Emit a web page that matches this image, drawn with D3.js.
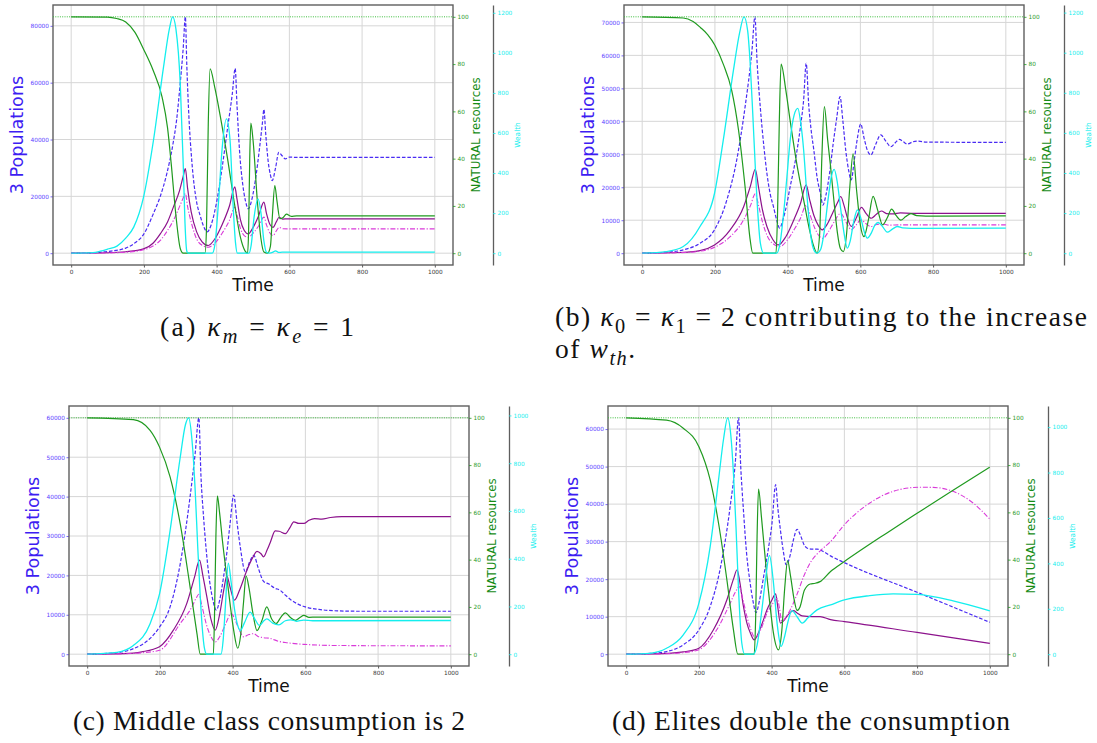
<!DOCTYPE html>
<html>
<head>
<meta charset="utf-8">
<script src="https://cdn.jsdelivr.net/npm/d3@7"></script>
<style>
  body { margin: 0; background: #fff; }
  svg { display: block; }
</style>
</head>
<body>
<svg id="fig" width="1097" height="743"></svg>
<script>
// ---------------------------------------------------------------
// Tick values
// ---------------------------------------------------------------
const timeTicks = [0, 200, 400, 600, 800, 1000];
const natureTicks = [0, 20, 40, 60, 80, 100];
const popTicksA = [0, 20000, 40000, 60000, 80000];
const popTicksB = [0, 10000, 20000, 30000, 40000, 50000, 60000, 70000];
const popTicksCD = [0, 10000, 20000, 30000, 40000, 50000, 60000];
const wealthTicksAB = [0, 200, 400, 600, 800, 1000, 1200];
const wealthTicksCD = [0, 200, 400, 600, 800, 1000];
const carryingCapacity = 100;

// ---------------------------------------------------------------
// (a) kappa_m = kappa_e = 1      series are [time, value]
// ---------------------------------------------------------------
const commonersA = [[0,0],[50,100],[100,600],[150,1800],[172,3300],[200,6800],[226,13900],[245,20000],[263,28000],[280,38500],[290,47000],[300,60000],[308,72000],[314,83175],[318,66000],[323,50000],[332,32000],[345,18000],[354,13500],[364,9500],[374,7500],[385,10000],[400,18000],[415,30000],[430,44000],[443,56000],[451,65000],[456,52000],[463,36000],[472,24000],[480,18000],[487,15600],[497,19000],[508,27000],[518,37000],[526,46000],[530,50600],[535,42000],[542,32000],[548,27500],[553,25550],[562,30000],[571,35500],[580,34300],[589,33200],[600,33800],[620,33700],[1000,33700]];
const middleA = [[0,0],[100,150],[150,500],[199,1500],[225,3500],[245,6800],[265,11000],[281,16200],[298,22000],[308,27000],[314,29750],[320,23000],[330,14500],[345,7500],[360,4000],[377,2700],[395,5000],[415,10000],[435,16500],[450,23300],[456,19000],[465,12000],[476,8000],[487,6800],[500,9000],[515,13000],[530,18000],[537,14000],[547,10000],[555,9100],[564,11000],[572,12650],[582,12000],[595,12100],[1000,12100]];
const elitesA = [[0,0],[100,100],[150,350],[199,1200],[225,2500],[245,4500],[265,8000],[281,11500],[300,17000],[310,20000],[314,21000],[320,16500],[332,10000],[345,5000],[360,2800],[377,2100],[395,3500],[415,7000],[435,11500],[450,16200],[456,13500],[466,8500],[476,6200],[487,5600],[500,7000],[515,9500],[530,12700],[537,10000],[546,7200],[555,6200],[564,7800],[572,9100],[582,8600],[595,8570],[1000,8570]];
const natureA = [[0,100],[100,99.9],[125,99.3],[150,97.8],[175,93.5],[200,86],[225,77.5],[250,66],[265,53],[275,38],[288,16],[300,2],[308,0],[368,0],[372,10],[377,55],[382,78],[395,70],[410,58],[430,40],[450,20],[465,7],[478,1],[485,0],[488,10],[491,40],[494,55],[500,48],[512,22],[522,6],[530,0.5],[540,0],[548,3],[553,15],[560,28.6],[566,22],[574,14.6],[582,15],[592,16.5],[605,15.6],[620,15.8],[1000,15.8]];
const wealthA = [[0,0],[60,3],[80,10],[100,20],[126,35],[150,75],[172,130],[199,280],[226,560],[254,930],[270,1120],[279,1180],[288,1120],[300,845],[308,450],[313,150],[318,10],[322,0],[388,0],[395,40],[405,250],[415,520],[427,670],[437,560],[445,250],[452,50],[457,0],[489,0],[495,40],[503,180],[514,271],[522,200],[530,60],[537,5],[545,0],[555,5],[562,12],[570,4],[580,5],[1000,5]];

// ---------------------------------------------------------------
// (b) kappa_0 = kappa_1 = 2
// ---------------------------------------------------------------
const commonersB = [[0,0],[67,300],[113,1000],[159,3000],[199,7100],[233,16200],[260,28300],[283,44400],[302,61600],[310,71700],[316,58000],[325,44000],[335,32000],[343,24200],[352,18000],[361,14100],[370,10000],[378,7600],[388,10500],[398,15000],[407,20200],[417,25500],[426,31300],[436,39000],[444,46500],[451,57600],[458,45000],[465,37000],[472,31300],[481,23000],[490,18200],[497,14600],[505,17500],[515,24000],[525,33000],[535,41000],[544,47500],[552,40000],[560,31000],[568,25000],[575,22200],[583,28000],[592,35000],[601,39200],[610,35000],[620,31000],[629,29800],[642,33000],[656,35900],[670,34000],[684,32300],[696,33500],[707,34500],[718,33800],[729,33100],[745,33800],[760,34000],[780,33700],[1000,33600]];
const middleB = [[0,0],[100,200],[159,800],[199,2500],[242,7100],[279,14100],[298,20500],[311,25450],[320,20000],[330,13500],[343,8100],[360,4000],[375,2500],[395,5000],[417,10100],[435,15000],[451,20700],[460,16500],[472,11500],[485,8300],[495,7100],[510,9000],[525,12500],[538,15500],[546,17200],[555,14500],[565,10500],[575,8100],[588,10500],[603,13900],[616,12000],[630,10600],[644,11800],[658,12800],[672,12000],[690,11900],[710,12200],[740,12100],[1000,12100]];
const elitesB = [[0,0],[100,150],[159,600],[199,1800],[242,5000],[279,10100],[298,14500],[311,18000],[320,14500],[332,9000],[345,5000],[362,2700],[378,2000],[398,3800],[417,7000],[435,10500],[451,14600],[462,11500],[475,7500],[487,5200],[497,4500],[512,6500],[528,9500],[546,12100],[556,10500],[566,8300],[575,7100],[588,8500],[601,10100],[615,9000],[629,8100],[645,8700],[660,8900],[680,8500],[710,8600],[1000,8600]];
const natureB = [[0,100],[113,99.5],[140,98],[160,95.5],[180,92.5],[200,88],[223,80],[246,69],[265,52],[283,28],[297,5.6],[304,0],[368,0],[372,15],[377,55],[382,80],[395,69],[407,56],[425,38],[444,22.6],[460,10],[472,2.8],[481,0],[488,8],[494,40],[501,62],[510,48],[518,36.7],[530,18],[537,8.5],[545,2],[553,0.7],[562,8],[571,28],[580,42],[590,26],[600,12],[610,7],[622,14],[635,24],[648,18],[661,12],[674,15],[686,18.6],[698,16],[711,14],[725,15.5],[739,16.7],[755,15.9],[780,15.7],[1000,15.8]];
const wealthB = [[0,0],[67,8],[113,33],[159,133],[199,299],[223,564],[251,913],[268,1100],[280,1179],[290,1110],[297,946],[304,700],[311,432],[318,200],[325,50],[334,0],[370,0],[380,60],[389,200],[398,380],[407,564],[418,690],[428,722],[436,650],[444,515],[451,340],[458,183],[465,70],[472,17],[480,0],[491,20],[500,100],[510,250],[520,380],[528,418],[536,360],[546,220],[556,90],[564,25],[572,60],[582,160],[592,216],[602,170],[611,105],[619,75],[630,100],[640,140],[649,153],[660,135],[674,105],[688,120],[702,133],[716,126],[740,124],[1000,125]];

// ---------------------------------------------------------------
// (c) middle class consumption is 2
// ---------------------------------------------------------------
const commonersC = [[0,0],[82,400],[127,1400],[173,4000],[199,6900],[228,12000],[256,23000],[283,40000],[297,51000],[307,60000],[313,45000],[320,34900],[334,20500],[345,14000],[355,11200],[365,14000],[375,19600],[385,26500],[393,33200],[403,40400],[412,33500],[421,27200],[435,20900],[447,23500],[458,25100],[470,22000],[485,18500],[500,17800],[515,16800],[531,16200],[545,15000],[559,13900],[580,12700],[600,12000],[642,11300],[688,11000],[750,10900],[1000,10900]];
const middleC = [[0,0],[100,150],[150,600],[199,1900],[237,6100],[274,12900],[295,19500],[309,23900],[318,20000],[329,14600],[340,9000],[352,6100],[365,10500],[376,16500],[384,19900],[393,17000],[405,13700],[420,16500],[440,21500],[455,24500],[467,26100],[478,25500],[485,24700],[495,26500],[504,28500],[517,31300],[528,31200],[545,30600],[558,32200],[568,33600],[582,33200],[596,33200],[610,34000],[625,34400],[645,34300],[669,34700],[700,34900],[1000,34900]];
const elitesC = [[0,0],[100,100],[150,350],[199,1000],[256,7800],[288,12000],[300,14300],[307,15200],[315,12500],[328,7500],[340,4500],[352,3100],[365,4500],[380,7500],[396,10300],[410,8000],[420,5800],[430,4400],[445,5000],[458,5200],[470,4500],[485,4200],[504,4000],[525,3300],[550,2900],[596,2500],[688,2200],[1000,2100]];
const natureC = [[0,100],[127,99.2],[173,94.7],[199,87.6],[228,75],[256,55],[279,32.6],[302,8.6],[311,0],[347,0],[350,15],[354,50],[358,67],[364,60],[372,48],[384,32.6],[394,20],[403,10],[414,2.5],[422,8],[430,22],[437,33],[445,28],[455,18],[467,10],[480,14],[494,20],[507,15],[520,13],[532,15.5],[545,17.5],[559,15.5],[573,14.3],[585,15.5],[596,16.4],[610,15.6],[630,15.7],[1000,15.7]];
const wealthC = [[0,0],[82,8],[127,36],[173,127],[199,253],[228,518],[256,826],[270,960],[279,990],[288,900],[297,686],[304,450],[311,239],[317,100],[322,29],[329,0],[368,0],[374,60],[380,200],[388,381],[396,300],[405,190],[414,120],[421,99],[432,130],[448,176],[460,150],[474,120],[486,140],[494,148],[510,130],[527,123],[545,140],[560,144],[575,138],[595,143],[620,140],[1000,141]];

// ---------------------------------------------------------------
// (d) elites double the consumption
// ---------------------------------------------------------------
const commonersD = [[0,0],[65,200],[111,700],[157,2500],[200,6500],[231,12700],[258,22500],[286,39400],[300,51000],[309,63000],[315,50000],[323,37600],[331,27000],[341,18900],[349,14000],[357,11100],[367,14500],[378,20700],[390,27500],[401,34900],[411,45200],[417,39000],[424,33200],[432,27500],[440,23800],[450,26000],[460,30500],[470,33300],[480,31500],[490,29000],[497,28300],[511,28000],[525,28000],[545,27200],[562,26200],[600,24400],[800,16500],[1000,8500]];
const middleD = [[0,0],[100,150],[157,600],[200,1600],[240,6500],[277,14500],[295,20000],[305,22500],[312,19500],[322,13000],[332,8300],[342,5500],[352,3800],[365,6000],[377,9000],[387,11800],[400,14300],[411,16100],[417,12500],[424,8300],[432,8800],[440,9800],[450,11000],[460,11600],[470,11000],[484,10200],[511,10000],[533,10000],[562,9200],[600,8700],[800,5800],[1000,2900]];
const elitesD = [[0,0],[100,100],[157,400],[200,1200],[249,6500],[286,13600],[300,16500],[311,18000],[320,15000],[332,10000],[343,6500],[355,4300],[370,6500],[387,10900],[400,13000],[415,14900],[422,12000],[428,8700],[440,10000],[451,11800],[470,16000],[488,20700],[507,24500],[533,27500],[562,30000],[600,34500],[670,40300],[734,43400],[808,44500],[844,44450],[899,43400],[954,40300],[1000,36000]];
const natureD = [[0,100],[111,99],[157,95.6],[200,87.8],[231,73.7],[254,55.4],[277,31.4],[295,10.3],[307,0],[352,0],[356,15],[360,50],[364,69.8],[372,58],[387,32.9],[396,20],[405,8.9],[419,1.8],[428,10],[436,28],[444,39.6],[452,33],[462,23],[470,18.5],[478,20],[490,27],[506,29.7],[520,30],[533,30.7],[562,35],[600,39.2],[716,51.2],[800,59.6],[900,69.5],[1000,79.1]];
const wealthD = [[0,0],[65,4],[111,26],[157,85],[200,225],[231,474],[254,768],[268,950],[279,1041],[288,960],[295,797],[302,560],[309,283],[318,48],[326,0],[350,0],[360,40],[372,180],[384,340],[394,435],[404,330],[415,137],[426,34],[436,80],[444,137],[456,192],[470,165],[484,137],[500,160],[525,195],[562,217],[600,239],[670,258],[734,266],[800,263],[899,235],[1000,191]];

// ---------------------------------------------------------------
// Drawing
// ---------------------------------------------------------------
const svg = d3.select("#fig");
const W = 400, H = 260;
const SANS = "'DejaVu Sans', Verdana, sans-serif";
const SERIF = "'Liberation Serif', 'Times New Roman', serif";
const intFmt = d3.format("d");

const C = {
  popLabel: "#3e1df2",
  popTick: "#5c40ff",
  commoners: "#4a2cf3",
  middle: "#8c128c",
  elites: "#d93ad9",
  nature: "#1f9a1f",
  natureLabel: "#168c16",
  capacity: "#3cbc3c",
  wealth: "#14eeee",
  frame: "#5e5e5e",
  grid: "#d6d6d6"
};

// matplotlib-style 5% autoscale margins
function padded(lo, hi) {
  const m = (hi - lo) * 0.05;
  return [lo - m, hi + m];
}

function styleAxis(g, color, size) {
  g.select(".domain").remove();
  g.selectAll(".tick line").attr("stroke", color).attr("stroke-width", 0.8);
  g.selectAll(".tick text").attr("fill", color)
    .attr("font-family", SANS).attr("font-size", size);
}

function drawPanel(p) {
  const g = svg.append("g").attr("transform", `translate(${p.left},${p.top})`);

  const x = d3.scaleLinear().domain(padded(0, 1000)).range([0, W]);
  const popMax = d3.max([p.commoners, p.middle, p.elites].flat(), d => d[1]);
  const yPop = d3.scaleLinear().domain(padded(0, popMax)).range([H, 0]);
  const yNat = d3.scaleLinear().domain(padded(0, d3.max(p.nature, d => d[1]))).range([H, 0]);
  const yWea = d3.scaleLinear().domain(padded(0, d3.max(p.wealth, d => d[1]))).range([H, 0]);

  // grid
  g.append("g").selectAll("line").data(timeTicks).join("line")
    .attr("x1", d => x(d)).attr("x2", d => x(d)).attr("y1", 0).attr("y2", H)
    .attr("stroke", C.grid).attr("stroke-width", 1);
  g.append("g").selectAll("line").data(p.popTicks).join("line")
    .attr("x1", 0).attr("x2", W).attr("y1", d => yPop(d)).attr("y2", d => yPop(d))
    .attr("stroke", C.grid).attr("stroke-width", 1);

  const lineOf = (ys) => d3.line().x(d => x(d[0])).y(d => ys(d[1])).curve(d3.curveMonotoneX);

  // populations
  g.append("path").datum(p.commoners).attr("d", lineOf(yPop))
    .attr("fill", "none").attr("stroke", C.commoners).attr("stroke-width", 1.2)
    .attr("stroke-dasharray", "3.6,1.8");
  g.append("path").datum(p.middle).attr("d", lineOf(yPop))
    .attr("fill", "none").attr("stroke", C.middle).attr("stroke-width", 1.2);
  g.append("path").datum(p.elites).attr("d", lineOf(yPop))
    .attr("fill", "none").attr("stroke", C.elites).attr("stroke-width", 1.1)
    .attr("stroke-dasharray", "5,1.8,1.2,1.8");

  // axes
  const ax = g.append("g").attr("transform", `translate(0,${H})`)
    .call(d3.axisBottom(x).tickValues(timeTicks).tickFormat(intFmt).tickSize(2.5).tickPadding(2));
  styleAxis(ax, "#333", 5.8);
  const ay = g.append("g")
    .call(d3.axisLeft(yPop).tickValues(p.popTicks).tickFormat(intFmt).tickSize(2.5).tickPadding(1.5));
  styleAxis(ay, C.popTick, 5.8);

  // frame
  g.append("rect").attr("x", 0).attr("y", 0).attr("width", W).attr("height", H)
    .attr("fill", "none").attr("stroke", C.frame).attr("stroke-width", 1.4);

  // natural resources
  g.append("line").attr("x1", 0).attr("x2", W)
    .attr("y1", yNat(carryingCapacity)).attr("y2", yNat(carryingCapacity))
    .attr("stroke", C.capacity).attr("stroke-width", 1).attr("stroke-dasharray", "1,1.3");
  g.append("path").datum(p.nature).attr("d", lineOf(yNat))
    .attr("fill", "none").attr("stroke", C.nature).attr("stroke-width", 1.2);
  const an = g.append("g").attr("transform", `translate(${W},0)`)
    .call(d3.axisRight(yNat).tickValues(natureTicks).tickFormat(intFmt).tickSize(2.5).tickPadding(2));
  styleAxis(an, C.nature, 5.8);

  // wealth
  g.append("path").datum(p.wealth).attr("d", lineOf(yWea))
    .attr("fill", "none").attr("stroke", C.wealth).attr("stroke-width", 1.3);
  const aw = g.append("g").attr("transform", `translate(${W + 40},0)`)
    .call(d3.axisRight(yWea).tickValues(p.wealthTicks).tickFormat(intFmt).tickSize(2.5).tickPadding(2).tickSizeOuter(0));
  aw.selectAll(".tick line").attr("stroke", C.wealth).attr("stroke-width", 0.8);
  aw.selectAll(".tick text").attr("fill", C.wealth).attr("font-family", SANS).attr("font-size", 5.8);
  aw.select(".domain").attr("stroke", C.frame).attr("stroke-width", 1.3);

  // axis titles
  g.append("text").attr("transform", `translate(-36,${H / 2}) rotate(-90)`)
    .attr("text-anchor", "middle").attr("dominant-baseline", "central")
    .attr("font-family", SANS).attr("font-size", 17.6).attr("fill", C.popLabel)
    .text("3 Populations");
  g.append("text").attr("transform", `translate(${W + 22.5},${H / 2}) rotate(-90)`)
    .attr("text-anchor", "middle").attr("dominant-baseline", "central")
    .attr("font-family", SANS).attr("font-size", 11.8).attr("fill", C.natureLabel)
    .text("NATURAL resources");
  g.append("text").attr("transform", `translate(${W + 64.5},${H / 2}) rotate(-90)`)
    .attr("text-anchor", "middle").attr("dominant-baseline", "central")
    .attr("font-family", SANS).attr("font-size", 7.4).attr("fill", C.wealth)
    .text("Wealth");
  g.append("text").attr("x", W / 2).attr("y", H + 26)
    .attr("text-anchor", "middle")
    .attr("font-family", SANS).attr("font-size", 17).attr("fill", "#111")
    .text("Time");
}

const panels = [
  { left: 53, top: 5, popTicks: popTicksA, wealthTicks: wealthTicksAB,
    commoners: commonersA, middle: middleA, elites: elitesA, nature: natureA, wealth: wealthA },
  { left: 624, top: 5, popTicks: popTicksB, wealthTicks: wealthTicksAB,
    commoners: commonersB, middle: middleB, elites: elitesB, nature: natureB, wealth: wealthB },
  { left: 69, top: 406, popTicks: popTicksCD, wealthTicks: wealthTicksCD,
    commoners: commonersC, middle: middleC, elites: elitesC, nature: natureC, wealth: wealthC },
  { left: 608, top: 406, popTicks: popTicksCD, wealthTicks: wealthTicksCD,
    commoners: commonersD, middle: middleD, elites: elitesD, nature: natureD, wealth: wealthD }
];
panels.forEach(drawPanel);

// ---------------------------------------------------------------
// Sub-captions (serif, math parts in italics with subscripts)
// ---------------------------------------------------------------
const CAP_SIZE = 27.5;
function caption(segs, x, y, width, spacing) {
  const t = svg.append("text").attr("x", x).attr("y", y)
    .attr("font-family", SERIF).attr("font-size", CAP_SIZE).attr("fill", "#111");
  let shift = 0;
  segs.forEach(s => {
    const sp = t.append("tspan").text(s.t);
    if (s.it) sp.attr("font-style", "italic");
    const want = s.sub ? 6.5 : 0;
    if (want !== shift) { sp.attr("dy", want - shift); shift = want; }
    if (s.sub) sp.attr("font-size", CAP_SIZE * 0.74);
  });
  if (spacing == null) {
    const len = t.node().getComputedTextLength();
    const n = segs.map(s => s.t).join("").length;
    spacing = Math.max(0, (width - len) / (n - 1));
  }
  t.style("letter-spacing", spacing + "px");
  return spacing;
}

caption([{t: "(a) "}, {t: "κ", it: true}, {t: "m", it: true, sub: true}, {t: " = "},
         {t: "κ", it: true}, {t: "e", it: true, sub: true}, {t: " = 1"}], 160, 336, 194);
const bSpacing = caption([{t: "(b) "}, {t: "κ", it: true}, {t: "0", sub: true}, {t: " = "},
         {t: "κ", it: true}, {t: "1", sub: true}, {t: " = 2 contributing to the increase"}], 555, 326, 532);
caption([{t: "of "}, {t: "w", it: true}, {t: "th", it: true, sub: true}, {t: "."}], 555, 358, null, bSpacing);
caption([{t: "(c) Middle class consumption is 2"}], 73, 730, 392);
caption([{t: "(d) Elites double the consumption"}], 612, 730, 398);
</script>
</body>
</html>
